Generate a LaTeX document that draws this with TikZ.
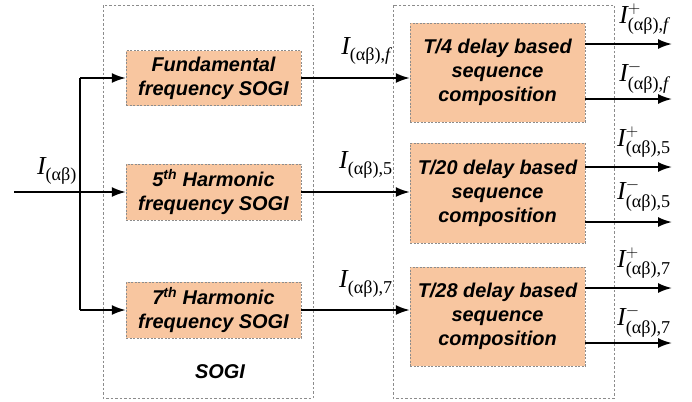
\documentclass[tikz,border=0pt]{standalone}
\usepackage{amsmath}
\usepackage{fontspec}
\setmainfont{Liberation Sans}
\newfontfamily\tms{Liberation Serif}
\usetikzlibrary{arrows.meta,positioning}
\definecolor{peach}{HTML}{F8C6A0}
\definecolor{dashgray}{HTML}{8C8C8C}
\newcommand{\Iab}[2]{$\text{\tms\itshape I}^{#1}_{\text{\tms(αβ)#2}}$}

\begin{document}
\begin{tikzpicture}[x=1bp,y=-1bp,
    blk/.style={draw=dashgray,dash pattern=on 2bp off 1.5bp,fill=peach,minimum width=175bp,align=center,
      inner sep=0pt,font=\fontsize{20}{24}\selectfont\bfseries\itshape},
    frame/.style={draw=dashgray,dash pattern=on 2.5bp off 2bp,line width=0.6bp},
    wire/.style={line width=1.9bp},
    sig/.style={wire,-{Latex[length=14bp,width=10bp]}},
    lab/.style={inner sep=1bp,font=\fontsize{26}{30}\selectfont}]
    \useasboundingbox (0,0) rectangle (692,401);
    \draw[frame] (103,5) rectangle (313,398);
    \draw[frame] (393,5) rectangle (614,398);

    \node[blk,minimum height=55bp] (sf) at (213.5,78) {Fundamental\\frequency SOGI};
    \node[blk,minimum height=56bp] (s5) at (213.5,192) {5\textsuperscript{th} Harmonic\\frequency SOGI};
    \node[blk,minimum height=56bp] (s7) at (213.5,310) {7\textsuperscript{th} Harmonic\\frequency SOGI};
    \node[font=\fontsize{20}{24}\selectfont\bfseries\itshape] (sogi) at (220,372) {SOGI};

    \node[blk,minimum height=99bp] (tf) at (497.5,72.5) {T/4 delay based\\sequence\\composition};
    \node[blk,minimum height=100bp] (t5) at (497.5,193) {T/20 delay based\\sequence\\composition};
    \node[blk,minimum height=99bp] (t7) at (497.5,316.5) {T/28 delay based\\sequence\\composition};

    \coordinate (in) at (14,192);
    \coordinate (br) at (80,192);
    \draw[wire] (in) -- (br);
    \draw[wire] (sf.west -| br) -- (s7.west -| br);
    \draw[sig] (sf.west -| br) -- (sf.west);
    \draw[sig] (br) -- (s5.west);
    \draw[sig] (s7.west -| br) -- (s7.west);
    \node[lab] (lin) at (57,171) {\Iab{}{}};

    \draw[sig] (sf.east) -- (sf.east -| tf.west);
    \draw[sig] (s5.east) -- (s5.east -| t5.west);
    \draw[sig] (s7.east) -- (s7.east -| t7.west);
    \node[lab] (lf) at (366,51) {\Iab{}{,\itshape f}};
    \node[lab] (l5) at (366,165) {\Iab{}{,5}};
    \node[lab] (l7) at (366,284) {\Iab{}{,7}};

    \coordinate (ofp) at (672,44);
    \coordinate (ofm) at (672,99);
    \coordinate (o5p) at (672,167);
    \coordinate (o5m) at (672,222);
    \coordinate (o7p) at (672,288);
    \coordinate (o7m) at (672,343);
    \draw[sig] (ofp -| tf.east) -- (ofp);
    \draw[sig] (ofm -| tf.east) -- (ofm);
    \draw[sig] (o5p -| t5.east) -- (o5p);
    \draw[sig] (o5m -| t5.east) -- (o5m);
    \draw[sig] (o7p -| t7.east) -- (o7p);
    \draw[sig] (o7m -| t7.east) -- (o7m);
    \path (ofp) ++(-28,-25) node[lab] (lfp) {\Iab{+}{,\itshape f}};
    \path (ofm) ++(-28,-22) node[lab] (lfm) {\Iab{-}{,\itshape f}};
    \path (o5p) ++(-28,-25) node[lab] (l5p) {\Iab{+}{,5}};
    \path (o5m) ++(-28,-27) node[lab] (l5m) {\Iab{-}{,5}};
    \path (o7p) ++(-28,-25) node[lab] (l7p) {\Iab{+}{,7}};
    \path (o7m) ++(-28,-22) node[lab] (l7m) {\Iab{-}{,7}};
\end{tikzpicture}
\end{document}
